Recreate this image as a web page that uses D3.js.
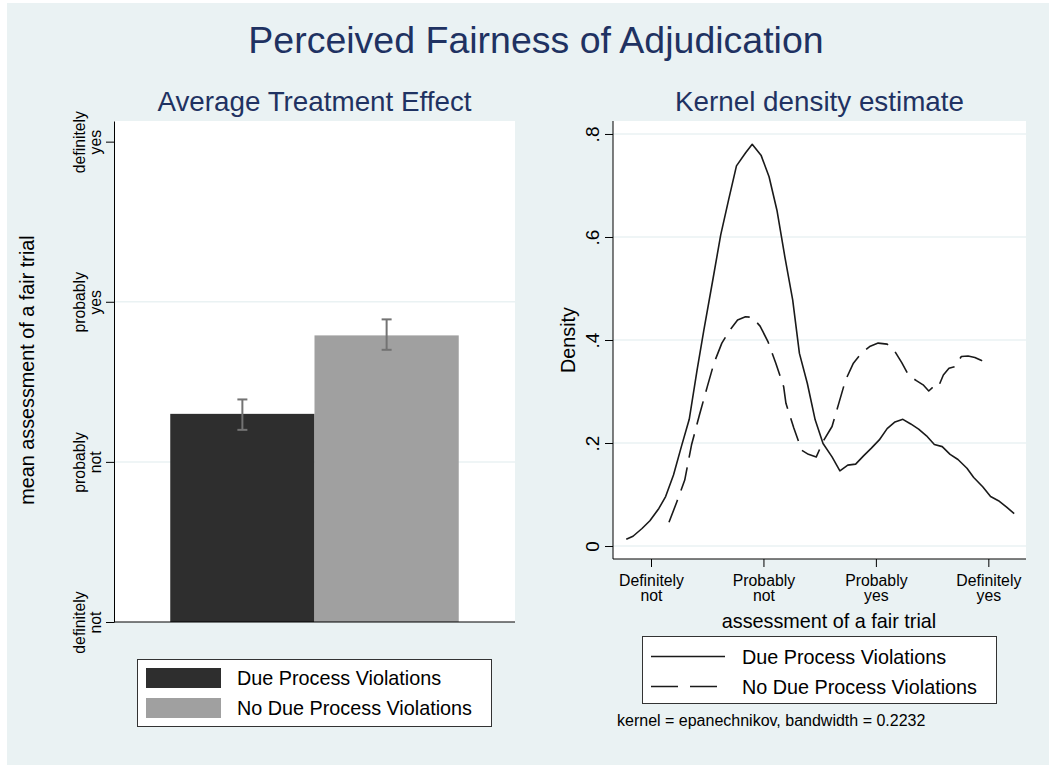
<!DOCTYPE html>
<html>
<head>
<meta charset="utf-8">
<script src="https://cdn.jsdelivr.net/npm/d3@7"></script>
<style>
  body { margin: 0; background: #fff; }
  text { font-family: "Liberation Sans", Arial, sans-serif; }
</style>
</head>
<body>
<svg id="chart" width="1049" height="765"></svg>
<script>
// bar panel data
const barGroups = ["Due Process Violations", "No Due Process Violations"];
const barMeans = [2.30, 2.79];
const barLow = [2.20, 2.70];
const barHigh = [2.39, 2.89];
const barTicks = [1, 2, 3, 4];
const barTickLabels = [["definitely", "not"], ["probably", "not"], ["probably", "yes"], ["definitely", "yes"]];

// kernel density data
const dueX = [0.78, 0.84, 0.92, 0.99, 1.07, 1.13, 1.20, 1.27, 1.34, 1.41, 1.47, 1.55, 1.62, 1.69, 1.76, 1.84, 1.90, 1.98, 2.05, 2.12, 2.19, 2.26, 2.32, 2.39, 2.46, 2.53, 2.61, 2.68, 2.75, 2.82, 2.89, 2.96, 3.03, 3.10, 3.17, 3.24, 3.31, 3.38, 3.45, 3.52, 3.59, 3.66, 3.73, 3.81, 3.87, 3.95, 4.02, 4.09, 4.16, 4.23];
const dueY = [0.013, 0.019, 0.034, 0.049, 0.073, 0.096, 0.138, 0.193, 0.246, 0.342, 0.419, 0.517, 0.604, 0.672, 0.738, 0.763, 0.780, 0.758, 0.717, 0.652, 0.562, 0.478, 0.374, 0.316, 0.245, 0.199, 0.173, 0.146, 0.157, 0.159, 0.175, 0.190, 0.206, 0.228, 0.241, 0.246, 0.237, 0.227, 0.214, 0.197, 0.193, 0.178, 0.168, 0.151, 0.133, 0.115, 0.096, 0.088, 0.076, 0.063];
const noDueX = [1.16, 1.23, 1.30, 1.36, 1.43, 1.50, 1.56, 1.63, 1.70, 1.77, 1.84, 1.90, 1.97, 2.04, 2.11, 2.18, 2.20, 2.27, 2.34, 2.40, 2.47, 2.53, 2.61, 2.67, 2.73, 2.80, 2.87, 2.95, 3.02, 3.10, 3.16, 3.23, 3.29, 3.36, 3.42, 3.47, 3.50, 3.55, 3.60, 3.65, 3.70, 3.76, 3.82, 3.88, 3.94, 4.00];
const noDueY = [0.046, 0.086, 0.128, 0.196, 0.254, 0.309, 0.355, 0.394, 0.419, 0.439, 0.445, 0.444, 0.427, 0.397, 0.355, 0.309, 0.277, 0.229, 0.186, 0.178, 0.173, 0.203, 0.232, 0.277, 0.322, 0.355, 0.374, 0.388, 0.394, 0.392, 0.381, 0.356, 0.332, 0.321, 0.313, 0.301, 0.307, 0.306, 0.332, 0.345, 0.348, 0.368, 0.369, 0.366, 0.360, 0.345];
const kdeTicksX = [1, 2, 3, 4];
const kdeTickLabelsX = [["Definitely", "not"], ["Probably", "not"], ["Probably", "yes"], ["Definitely", "yes"]];
const kdeTicksY = [0, 0.2, 0.4, 0.6, 0.8];
const kdeTickLabelsY = ["0", ".2", ".4", ".6", ".8"];
const kdeSeries = ["Due Process Violations", "No Due Process Violations"];

const titleColor = "#1f3262";
const bg = "#eaf2f3";
const svg = d3.select("#chart");

svg.append("rect").attr("x", 7).attr("y", 3).attr("width", 1042).attr("height", 762).attr("fill", bg);

svg.append("text").attr("x", 536).attr("y", 53).attr("text-anchor", "middle")
    .attr("font-size", 37.5).attr("fill", titleColor).text("Perceived Fairness of Adjudication");

// ---------- left panel: bars ----------
const L = { left: 114, right: 515, top: 121, bottom: 622 };
const gL = svg.append("g");
gL.append("rect").attr("x", L.left).attr("y", L.top)
    .attr("width", L.right - L.left).attr("height", L.bottom - L.top).attr("fill", "#fff");

const xBar = d3.scaleBand().domain(barGroups).range([L.left, L.right])
    .paddingInner(0).paddingOuter(0.39);
const yBar = d3.scaleLinear().domain([1, 4.129]).range([L.bottom, L.top]);

gL.selectAll(".grid").data([2, 3]).join("line")
    .attr("x1", L.left).attr("x2", L.right)
    .attr("y1", d => yBar(d)).attr("y2", d => yBar(d))
    .attr("stroke", bg).attr("stroke-width", 1.5);

const barFill = ["#2e2e2e", "#a0a0a0"];
gL.selectAll(".bar").data(barGroups).join("rect")
    .attr("x", d => xBar(d)).attr("width", xBar.bandwidth())
    .attr("y", (d, i) => yBar(barMeans[i]))
    .attr("height", (d, i) => yBar(1) - yBar(barMeans[i]))
    .attr("fill", (d, i) => barFill[i]);

const eb = gL.selectAll(".eb").data(barGroups).join("g")
    .attr("stroke", "#737373").attr("stroke-width", 2);
eb.append("line")
    .attr("x1", d => xBar(d) + xBar.bandwidth() / 2).attr("x2", d => xBar(d) + xBar.bandwidth() / 2)
    .attr("y1", (d, i) => yBar(barLow[i])).attr("y2", (d, i) => yBar(barHigh[i]));
[barLow, barHigh].forEach(arr => {
    eb.append("line")
        .attr("x1", d => xBar(d) + xBar.bandwidth() / 2 - 5).attr("x2", d => xBar(d) + xBar.bandwidth() / 2 + 5)
        .attr("y1", (d, i) => yBar(arr[i])).attr("y2", (d, i) => yBar(arr[i]));
});

const axL = gL.append("g").attr("transform", `translate(${L.left},0)`)
    .call(d3.axisLeft(yBar).tickValues(barTicks).tickSize(8).tickSizeOuter(0).tickFormat(""));
axL.select(".domain").attr("stroke", "#000");
axL.selectAll(".tick line").attr("stroke", "#000");
axL.selectAll(".tick").each(function(d) {
    const lines = barTickLabels[barTicks.indexOf(d)];
    const t = d3.select(this).append("text")
        .attr("transform", "translate(-29,0) rotate(-90)")
        .attr("text-anchor", "middle").attr("fill", "#000").attr("font-size", 15.8);
    lines.forEach((s, i) => t.append("tspan").attr("x", 0).attr("y", i * 15.5).text(s));
});
gL.append("line").attr("x1", L.left).attr("x2", L.right)
    .attr("y1", L.bottom).attr("y2", L.bottom).attr("stroke", "#000");

gL.append("text").attr("transform", `translate(34,370) rotate(-90)`)
    .attr("text-anchor", "middle").attr("font-size", 19.8).attr("fill", "#000")
    .text("mean assessment of a fair trial");
gL.append("text").attr("x", (L.left + L.right) / 2).attr("y", 111).attr("text-anchor", "middle")
    .attr("font-size", 27.8).attr("fill", titleColor).text("Average Treatment Effect");

// legend left
const lgL = gL.append("g");
lgL.append("rect").attr("x", 137.5).attr("y", 659.5).attr("width", 354).attr("height", 67)
    .attr("fill", "#fff").attr("stroke", "#333");
barGroups.forEach((g, i) => {
    lgL.append("rect").attr("x", 146).attr("y", 668 + i * 30).attr("width", 75).attr("height", 20)
        .attr("fill", barFill[i]);
    lgL.append("text").attr("x", 237).attr("y", 685 + i * 30).attr("font-size", 19.8)
        .attr("fill", "#000").text(g);
});

// ---------- right panel: kernel density ----------
const R = { left: 613, right: 1026, top: 121, bottom: 559 };
const gR = svg.append("g");
gR.append("rect").attr("x", R.left).attr("y", R.top)
    .attr("width", R.right - R.left).attr("height", R.bottom - R.top).attr("fill", "#fff");

const xK = d3.scaleLinear().domain([0.662, 4.335]).range([R.left, R.right]);
const yK = d3.scaleLinear().domain([-0.0252, 0.8252]).range([R.bottom, R.top]);

gR.selectAll(".grid").data(kdeTicksY).join("line")
    .attr("x1", R.left).attr("x2", R.right)
    .attr("y1", d => yK(d)).attr("y2", d => yK(d))
    .attr("stroke", bg).attr("stroke-width", 1.5);

const line = d3.line().x(d => xK(d[0])).y(d => yK(d[1]));
const dash = ["none", "24,10"];
gR.append("path").datum(d3.zip(dueX, dueY)).attr("d", line)
    .attr("fill", "none").attr("stroke", "#1a1a1a").attr("stroke-width", 1.6)
    .attr("stroke-linejoin", "round");
gR.append("path").datum(d3.zip(noDueX, noDueY)).attr("d", line)
    .attr("fill", "none").attr("stroke", "#1a1a1a").attr("stroke-width", 1.6)
    .attr("stroke-dasharray", dash[1]).attr("stroke-linejoin", "round");

const ayR = gR.append("g").attr("transform", `translate(${R.left},0)`)
    .call(d3.axisLeft(yK).tickValues(kdeTicksY).tickSize(8).tickSizeOuter(0).tickFormat(""));
ayR.select(".domain").attr("d", `M0,${R.top}V${R.bottom}`).attr("stroke", "#000");
ayR.selectAll(".tick line").attr("stroke", "#000");
ayR.selectAll(".tick").append("text")
    .attr("transform", "translate(-14,0) rotate(-90)")
    .attr("text-anchor", "middle").attr("fill", "#000").attr("font-size", 19)
    .text(d => kdeTickLabelsY[kdeTicksY.indexOf(d)]);

const axR = gR.append("g").attr("transform", `translate(0,${R.bottom})`)
    .call(d3.axisBottom(xK).tickValues(kdeTicksX).tickSize(8).tickSizeOuter(0).tickFormat(""));
axR.select(".domain").attr("d", `M${R.left},0H${R.right}`).attr("stroke", "#000");
axR.selectAll(".tick line").attr("stroke", "#000");
axR.selectAll(".tick").each(function(d) {
    const lines = kdeTickLabelsX[kdeTicksX.indexOf(d)];
    const t = d3.select(this).append("text").attr("text-anchor", "middle")
        .attr("fill", "#000").attr("font-size", 15.8);
    lines.forEach((s, i) => t.append("tspan").attr("x", 0).attr("y", 27 + i * 15).text(s));
});

gR.append("text").attr("transform", `translate(575,340) rotate(-90)`)
    .attr("text-anchor", "middle").attr("font-size", 19.8).attr("fill", "#000").text("Density");
gR.append("text").attr("x", 829).attr("y", 628).attr("text-anchor", "middle")
    .attr("font-size", 19.8).attr("fill", "#000").text("assessment of a fair trial");
gR.append("text").attr("x", (R.left + R.right) / 2).attr("y", 111).attr("text-anchor", "middle")
    .attr("font-size", 27.8).attr("fill", titleColor).text("Kernel density estimate");

// legend right
const lgR = gR.append("g");
lgR.append("rect").attr("x", 642.5).attr("y", 636.5).attr("width", 354).attr("height", 67)
    .attr("fill", "#fff").attr("stroke", "#333");
kdeSeries.forEach((s, i) => {
    lgR.append("line").attr("x1", 651).attr("x2", 725)
        .attr("y1", 656.5 + i * 30).attr("y2", 656.5 + i * 30)
        .attr("stroke", "#1a1a1a").attr("stroke-width", 1.6)
        .attr("stroke-dasharray", i ? "27,12" : null);
    lgR.append("text").attr("x", 742).attr("y", 663.5 + i * 30).attr("font-size", 19.8)
        .attr("fill", "#000").text(s);
});

gR.append("text").attr("x", 617).attr("y", 726).attr("font-size", 16).attr("fill", "#000")
    .text("kernel = epanechnikov, bandwidth = 0.2232");
</script>
</body>
</html>
